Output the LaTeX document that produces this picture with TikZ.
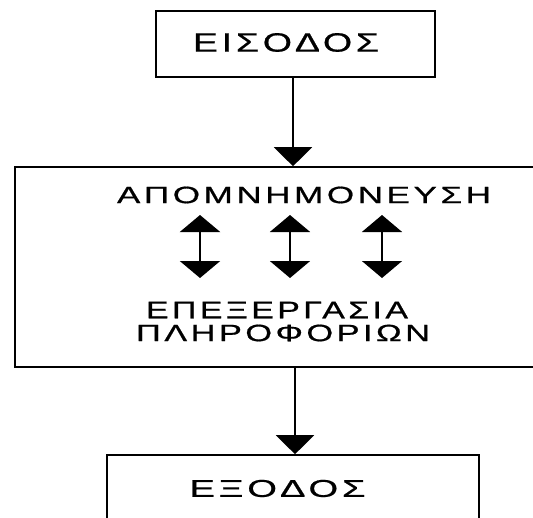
\documentclass[tikz,border=0pt]{standalone}
\usepackage{fontspec}
\setmainfont{Liberation Sans}
\usepackage{graphicx}
\usetikzlibrary{arrows.meta}
% Greek label squeezed into a given width and cap height
\newcommand\grlabel[3]{\resizebox{#1}{#2}{\addfontfeature{LetterSpace=10,FakeBold=0.6}#3}}
\begin{document}
\begin{tikzpicture}[x=1pt,y=-1pt,
  block/.style={draw=black,line width=1.6pt,fill=white,inner sep=0pt},
  label/.style={inner sep=0pt,anchor=center},
  flow/.style={line width=2pt,-{Triangle[width=38pt,length=19pt]}},
  swap/.style={line width=2pt,{Triangle[width=40pt,length=17pt]}-{Triangle[width=40pt,length=17pt]}}]
\useasboundingbox (0,0) rectangle (533,517);
\fill[white] (0,0) rectangle (533,517);

% boxes
\node[block,minimum width=279pt,minimum height=66pt] (in) at (295.5,44) {};
\node[block,minimum width=530pt,minimum height=200pt] (mem) at (280,267) {};
\node[block,minimum width=372pt,minimum height=120pt] (out) at (293,515) {};

% labels
\node[label] (tin) at (286,42.5) {\grlabel{186pt}{18.5pt}{ΕΙΣΟΔΟΣ}};
\node[label] (tmem) at (304,195) {\grlabel{374pt}{16.5pt}{ΑΠΟΜΝΗΜΟΝΕΥΣΗ}};
\node[label] (tproc) at (277,310) {\grlabel{262pt}{16.5pt}{ΕΠΕΞΕΡΓΑΣΙΑ}};
\node[label] (tinfo) at (283,333) {\grlabel{294pt}{16.5pt}{ΠΛΗΡΟΦΟΡΙΩΝ}};
\node[label] (tout) at (277.5,488.5) {\grlabel{176pt}{17pt}{ΕΞΟΔΟΣ}};

% flow between the stages
\draw[flow] (in.south -| 293,0) -- (mem.north -| 293,0);
\draw[flow] (mem.south -| 295,0) -- (out.north -| 295,0);

% two-way arrows between memorising and processing
\coordinate (a1) at (200,215); \coordinate (b1) at (200,278);
\coordinate (a2) at (290,215); \coordinate (b2) at (290,278);
\coordinate (a3) at (382,215); \coordinate (b3) at (382,278);
\draw[swap,line width=2.6pt] (a1) -- (b1);
\draw[swap] (a2) -- (b2);
\draw[swap,line width=1.6pt] (a3) -- (b3);
\end{tikzpicture}
\end{document}
